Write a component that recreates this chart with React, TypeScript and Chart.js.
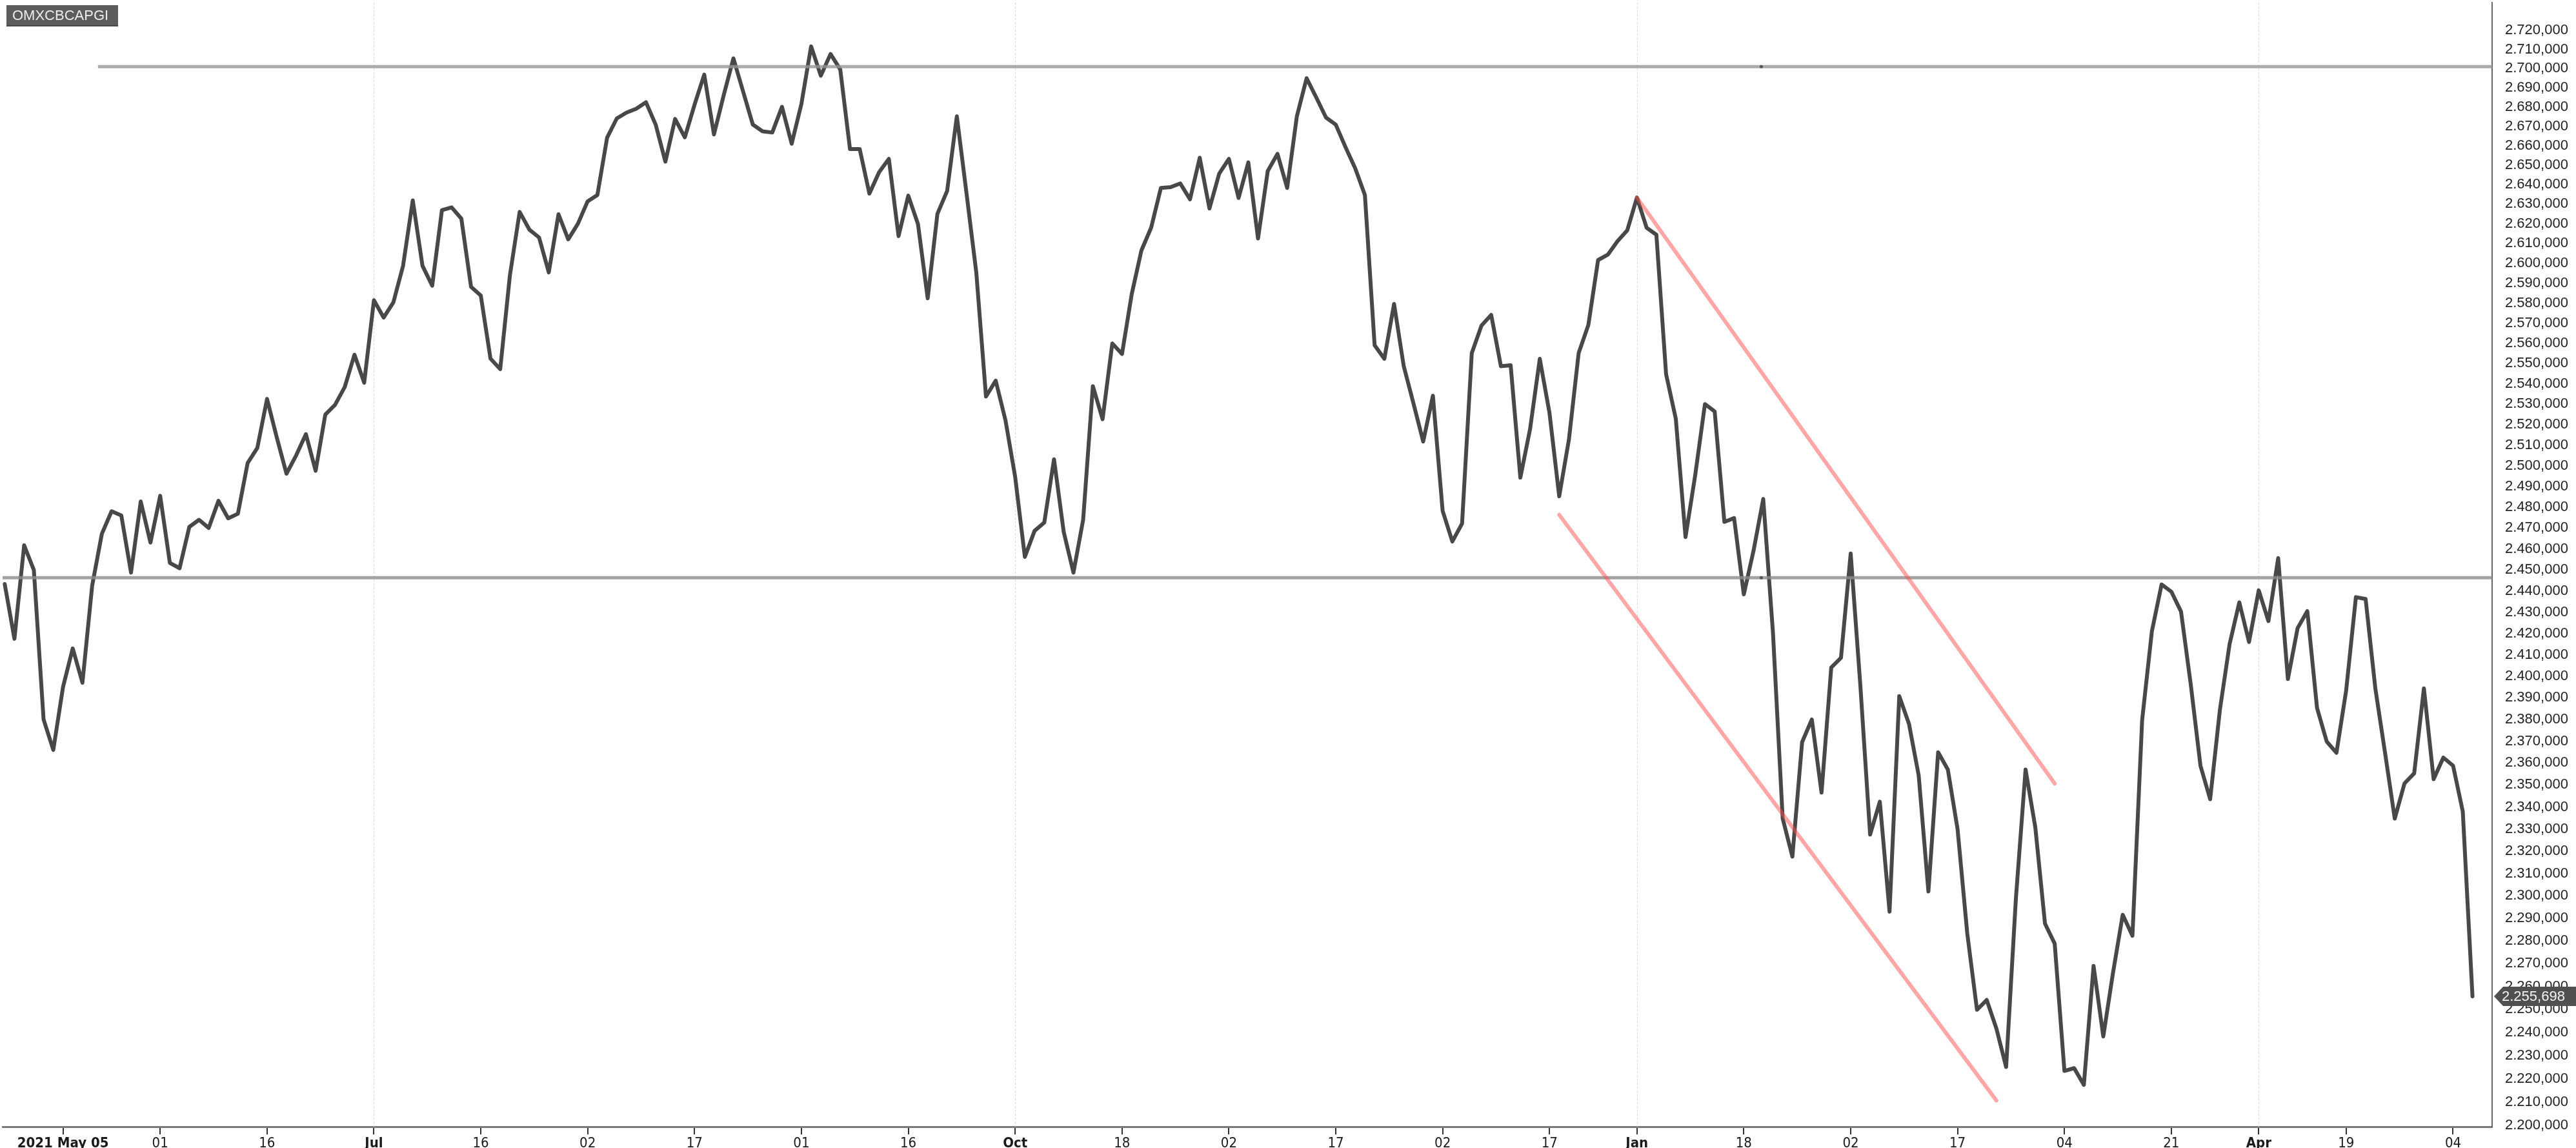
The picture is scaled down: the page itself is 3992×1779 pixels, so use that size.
import { useEffect, useRef } from 'react';
import { Chart, registerables } from 'chart.js';

Chart.register(...registerables);

const CANVAS_W = 3992;
const CANVAS_H = 1779;

const symbolLabel = 'OMXCBCAPGI';

// daily closes, one per trading day (index 0 .. 254)
const closes: number[] = [
  2443.3, 2417.5, 2461.7, 2449.9, 2380.0, 2366.0, 2395.0, 2413.0, 2397.0, 2442.5,
  2467.2, 2478.0, 2476.0, 2448.7, 2482.7, 2463.0, 2485.4, 2453.3, 2450.8, 2470.5,
  2473.9, 2470.0, 2483.0, 2474.6, 2476.8, 2501.2, 2508.6, 2532.5, 2513.7, 2496.1,
  2505.0, 2515.3, 2497.5, 2524.9, 2529.6, 2538.4, 2554.3, 2540.5, 2581.4, 2572.8,
  2580.3, 2598.7, 2631.9, 2598.7, 2588.7, 2626.9, 2628.3, 2622.6, 2588.1, 2583.8,
  2552.4, 2547.2, 2594.0, 2626.0, 2617.0, 2613.0, 2595.4, 2624.8, 2612.1, 2620.0,
  2631.4, 2634.6, 2664.0, 2674.0, 2677.0, 2679.0, 2682.4, 2670.8, 2651.7, 2673.7,
  2664.2, 2681.1, 2696.8, 2665.7, 2686.0, 2705.3, 2688.0, 2670.8, 2667.3, 2666.7,
  2680.0, 2660.9, 2681.5, 2711.6, 2696.2, 2707.6, 2699.5, 2658.2, 2658.2, 2635.3,
  2646.3, 2653.1, 2613.7, 2634.3, 2619.8, 2582.4, 2625.0, 2636.7, 2675.1, 2635.3,
  2595.4, 2533.7, 2541.5, 2522.2, 2494.6, 2456.2, 2468.6, 2472.6, 2503.1, 2468.1,
  2448.7, 2473.9, 2538.8, 2522.6, 2559.9, 2554.7, 2584.5, 2606.5, 2618.0, 2638.2,
  2638.6, 2640.5, 2632.4, 2653.7, 2627.7, 2645.5, 2653.1, 2633.1, 2651.3, 2612.5,
  2646.9, 2655.7, 2638.2, 2675.2, 2694.9, 2684.8, 2674.4, 2670.8, 2659.2, 2648.3,
  2634.6, 2559.0, 2552.3, 2579.6, 2548.6, 2530.3, 2511.7, 2534.1, 2478.2, 2463.5,
  2472.1, 2555.1, 2568.8, 2574.1, 2548.6, 2549.1, 2494.2, 2517.8, 2552.3, 2525.6,
  2485.2, 2512.7, 2555.1, 2569.1, 2601.6, 2604.3, 2611.1, 2616.6, 2633.3, 2617.9,
  2614.4, 2544.7, 2522.8, 2465.6, 2495.5, 2530.0, 2526.4, 2472.9, 2474.7, 2438.4,
  2459.1, 2483.9, 2420.4, 2334.8, 2317.6, 2369.6, 2380.0, 2346.5, 2404.1, 2408.6,
  2457.8, 2395.4, 2327.5, 2342.4, 2293.0, 2390.8, 2378.0, 2354.3, 2302.0, 2364.9,
  2357.0, 2330.0, 2283.3, 2249.8, 2254.1, 2241.6, 2225.0, 2298.6, 2357.0, 2330.9,
  2287.7, 2278.8, 2223.3, 2224.5, 2217.3, 2269.0, 2238.2, 2266.0, 2291.6, 2282.3,
  2379.8, 2421.0, 2443.1, 2439.7, 2430.3, 2396.3, 2358.8, 2343.5, 2384.4, 2415.0,
  2434.6, 2416.0, 2440.3, 2425.8, 2455.6, 2398.7, 2422.5, 2430.5, 2385.3, 2369.8,
  2364.7, 2393.5, 2437.1, 2436.2, 2394.4, 2364.7, 2334.7, 2350.7, 2355.3, 2394.4,
  2352.6, 2362.5, 2358.8, 2338.0, 2255.698,
];

// x-axis tick positions (trading-day index) and their labels
const xTickIndex = [6, 16, 27, 38, 49, 60, 71, 82, 93, 104, 115, 126, 137, 148, 159, 168, 179, 190, 201, 212, 223, 232, 241, 252];
const xTickLabel = ['2021 May 05', '01', '16', 'Jul', '16', '02', '17', '01', '16', 'Oct', '18', '02', '17', '02', '17', 'Jan', '18', '02', '17', '04', '21', 'Apr', '19', '04'];
const boldTickLabels = ['2021 May 05', 'Jul', 'Oct', 'Jan', 'Apr'];
const monthStartIndex = [38, 104, 168, 232];

// y-axis (log scale) ticks
const yTickMin = 2200;
const yTickMax = 2720;
const yTickStep = 10;
const yAxisMin = 2199.4;
const yAxisMax = 2734.7;
const xAxisMin = -0.22;
const xAxisMax = 256.02;

// drawn levels
const resistanceLevel = 2701.0;
const resistanceFromIndex = 9.6;
const supportLevel = 2446.3;
const anchorIndex = 180.8;

// downward channel
const channelUpperIndex = [168, 211];
const channelUpperValue = [2633.3, 2350.6];
const channelLowerIndex = [160, 205];
const channelLowerValue = [2476.3, 2210.6];

const FONT = '"Liberation Sans", Arial, sans-serif';

function fmtValue(v: number): string {
  const [i, d] = v.toFixed(3).split('.');
  return i.replace(/\B(?=(\d{3})+(?!\d))/g, '.') + ',' + d;
}

const decorPlugin = {
  id: 'decor',
  beforeDatasetsDraw(chart: any) {
    const { ctx, chartArea, scales } = chart;
    const x = scales.x;
    ctx.save();
    ctx.strokeStyle = '#d6d6d6';
    ctx.lineWidth = 1;
    ctx.setLineDash([3, 3]);
    monthStartIndex.forEach((i) => {
      const px = Math.round(x.getPixelForValue(i)) + 0.5;
      ctx.beginPath();
      ctx.moveTo(px, chartArea.top);
      ctx.lineTo(px, chartArea.bottom);
      ctx.stroke();
    });
    ctx.restore();
  },
  afterDraw(chart: any) {
    const { ctx, scales } = chart;
    const y = scales.y;
    ctx.save();
    // symbol badge
    ctx.fillStyle = '#5c5c5c';
    ctx.fillRect(10, 8, 173, 33);
    ctx.fillStyle = '#474747';
    ctx.fillRect(10, 39, 173, 2);
    ctx.font = '22px ' + FONT;
    ctx.fillStyle = '#ececec';
    ctx.textBaseline = 'middle';
    ctx.textAlign = 'left';
    ctx.fillText(symbolLabel, 19, 25);

    // last value tag
    const last = closes[closes.length - 1];
    const py = y.getPixelForValue(last);
    const h = 15;
    ctx.fillStyle = '#505050';
    ctx.beginPath();
    ctx.moveTo(3865, py);
    ctx.lineTo(3879, py - h);
    ctx.lineTo(3992, py - h);
    ctx.lineTo(3992, py + h);
    ctx.lineTo(3879, py + h);
    ctx.closePath();
    ctx.fill();
    ctx.fillStyle = '#f2f2f2';
    ctx.fillText(fmtValue(last), 3877, py + 1);
    ctx.restore();
  },
};

export default function App() {
  const canvasRef = useRef<HTMLCanvasElement | null>(null);

  useEffect(() => {
    const canvas = canvasRef.current;
    if (!canvas) return;

    const mainData = closes.map((v, i) => ({ x: i, y: v }));
    const upper = channelUpperIndex.map((ix, k) => ({ x: ix, y: channelUpperValue[k] }));
    const lower = channelLowerIndex.map((ix, k) => ({ x: ix, y: channelLowerValue[k] }));

    const chart = new Chart(canvas, {
      type: 'line',
      data: {
        datasets: [
          {
            data: [{ x: anchorIndex, y: resistanceLevel }, { x: anchorIndex, y: supportLevel }],
            showLine: false,
            pointRadius: 2.5,
            pointBackgroundColor: '#555',
            pointBorderWidth: 0,
            order: 0,
          } as any,
          {
            data: upper,
            borderColor: 'rgba(255,80,80,0.5)',
            borderWidth: 6,
            pointRadius: 0,
            borderCapStyle: 'round',
            order: 1,
          },
          {
            data: lower,
            borderColor: 'rgba(255,80,80,0.5)',
            borderWidth: 6,
            pointRadius: 0,
            borderCapStyle: 'round',
            order: 1,
          },
          {
            data: [{ x: resistanceFromIndex, y: resistanceLevel }, { x: xAxisMax, y: resistanceLevel }],
            borderColor: 'rgba(150,150,150,0.8)',
            borderWidth: 5,
            pointRadius: 0,
            order: 2,
          },
          {
            data: [{ x: xAxisMin, y: supportLevel }, { x: xAxisMax, y: supportLevel }],
            borderColor: 'rgba(140,140,140,0.8)',
            borderWidth: 5,
            pointRadius: 0,
            order: 2,
          },
          {
            data: mainData,
            borderColor: '#484848',
            borderWidth: 6,
            pointRadius: 0,
            tension: 0,
            borderJoinStyle: 'round',
            borderCapStyle: 'round',
            order: 5,
          },
        ],
      },
      options: {
        animation: false,
        responsive: false,
        maintainAspectRatio: false,
        layout: { padding: 0 },
        plugins: {
          legend: { display: false },
          tooltip: { enabled: false },
        },
        scales: {
          x: {
            type: 'linear',
            position: 'bottom',
            min: xAxisMin,
            max: xAxisMax,
            afterBuildTicks: (s: any) => {
              s.ticks = xTickIndex.map((v) => ({ value: v }));
            },
            afterFit: (s: any) => {
              s.height = 33;
              s.paddingLeft = 0;
              s.paddingRight = 0;
            },
            ticks: {
              autoSkip: false,
              maxRotation: 0,
              minRotation: 0,
              padding: 1,
              color: '#1a1a1a',
              font: (ctx: any) => {
                const k = xTickIndex.indexOf(ctx.tick ? ctx.tick.value : -1);
                const lab = k >= 0 ? xTickLabel[k] : '';
                return {
                  family: '"Liberation Sans Narrow", "DejaVu Sans Condensed", "Liberation Sans", sans-serif',
                  size: 22,
                  weight: boldTickLabels.includes(lab) ? 'bold' : 'normal',
                };
              },
              callback: (v: any) => {
                const k = xTickIndex.indexOf(Number(v));
                return k >= 0 ? xTickLabel[k] : '';
              },
            },
            grid: {
              display: true,
              drawOnChartArea: false,
              drawTicks: true,
              tickLength: 12,
              color: '#333',
              lineWidth: 2,
            },
            border: { display: true, color: '#7a7a7a', width: 3 },
          },
          y: {
            type: 'logarithmic',
            position: 'right',
            min: yAxisMin,
            max: yAxisMax,
            afterBuildTicks: (s: any) => {
              const t: any[] = [];
              for (let v = yTickMin; v <= yTickMax; v += yTickStep) t.push({ value: v });
              s.ticks = t;
            },
            afterFit: (s: any) => {
              s.width = 130;
              s.paddingTop = 0;
              s.paddingBottom = 0;
            },
            ticks: {
              autoSkip: false,
              padding: 20,
              color: '#222',
              font: { family: FONT, size: 22 },
              callback: (v: any) => fmtValue(Number(v)),
            },
            grid: { display: false, drawTicks: false },
            border: { display: true, color: '#666', width: 2 },
          },
        },
      },
      plugins: [decorPlugin],
    } as any);

    return () => chart.destroy();
  }, []);

  return (
    <div style={{ position: 'fixed', left: 0, top: 0, width: CANVAS_W, height: CANVAS_H, background: '#fff' }}>
      <canvas ref={canvasRef} width={CANVAS_W} height={CANVAS_H} style={{ display: 'block' }} />
    </div>
  );
}
